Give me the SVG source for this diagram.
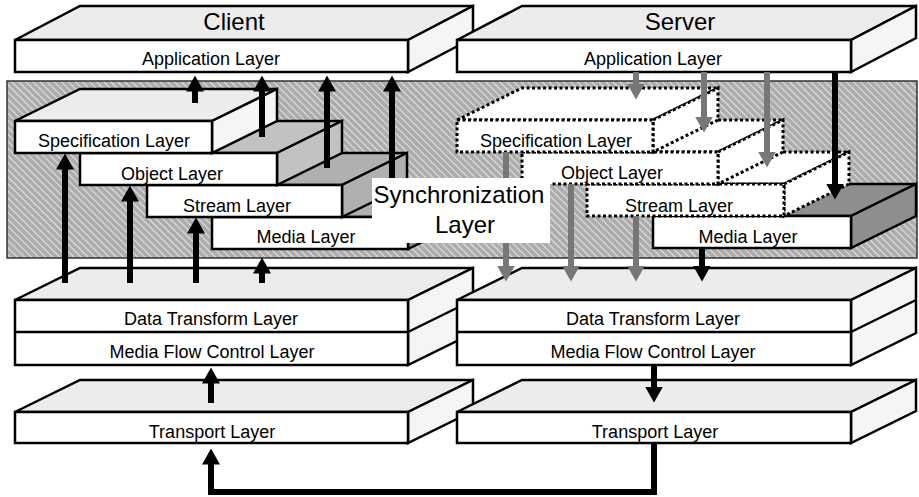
<svg xmlns="http://www.w3.org/2000/svg" width="919" height="497" viewBox="0 0 919 497">
<defs>
<pattern id="hatch" width="5" height="5" patternUnits="userSpaceOnUse" patternTransform="rotate(-45)">
<rect width="5" height="5" fill="#adadad"/>
<line x1="0" y1="0" x2="0" y2="5" stroke="#f2f2f2" stroke-width="1.6"/>
</pattern>
<marker id="ab" markerUnits="userSpaceOnUse" viewBox="0 0 16 18" markerWidth="16" markerHeight="18" refX="0.5" refY="9" orient="auto">
<path d="M0,0 L16,9 L0,18 z" fill="#000"/>
</marker>
<marker id="ag" markerUnits="userSpaceOnUse" viewBox="0 0 16 18" markerWidth="16" markerHeight="18" refX="0.5" refY="9" orient="auto">
<path d="M0,0 L16,9 L0,18 z" fill="#777"/>
</marker>
</defs>
<style>
.f{fill:#fff;stroke:#000;stroke-width:2.5;stroke-linejoin:miter}
.t{fill:#ececec;stroke:#000;stroke-width:2.5}
.s{fill:#f5f5f5;stroke:#000;stroke-width:2.5}
.g1{fill:#c2c2c2;stroke:#000;stroke-width:2.5}
.g2{fill:#b0b0b0;stroke:#000;stroke-width:2.5}
.g3{fill:#8e8e8e;stroke:#000;stroke-width:2.5}
.d{fill:#fff;stroke:#000;stroke-width:3;stroke-dasharray:3 2.5}
.txt{font-family:"Liberation Sans",Arial,sans-serif;font-size:18px;fill:#000;text-anchor:middle}
.big{font-family:"Liberation Sans",Arial,sans-serif;font-size:24px;fill:#000;text-anchor:middle}
.cb{stroke:#000;stroke-width:6;fill:none;marker-end:url(#ab)}
.cg{stroke:#777;stroke-width:6;fill:none;marker-end:url(#ag)}
</style>

<g id="sync-region">
<rect x="7" y="81" width="910" height="177" fill="url(#hatch)" stroke="#333" stroke-width="1.5"/>
</g>

<g id="client-application">
<polygon class="t" points="15,40 80,6 473,6 408,40"/>
<polygon class="s" points="408,40 473,6 473,38 408,72"/>
<rect class="f" x="15" y="40" width="393" height="32"/>
<text class="big" x="234" y="30">Client</text>
<text class="txt" x="211" y="65">Application Layer</text>
</g>

<g id="server-application">
<polygon class="t" points="457,40 522,6 916,6 851,40"/>
<polygon class="s" points="851,40 916,6 916,38 851,72"/>
<rect class="f" x="457" y="40" width="394" height="32"/>
<text class="big" x="680" y="30">Server</text>
<text class="txt" x="653" y="65">Application Layer</text>
</g>

<g id="client-media">
<polygon class="g2" points="212,217 277,185 473,185 408,217"/>
<polygon class="g3" points="408,217 473,185 473,217 408,249"/>
<rect class="f" x="212" y="217" width="196" height="32"/>
<text class="txt" x="306" y="243">Media Layer</text>
</g>
<g id="client-stream">
<polygon class="g2" points="147,185 212,153 407,153 342,185"/>
<polygon class="g2" points="342,185 407,153 407,185 342,217"/>
<rect class="f" x="147" y="185" width="195" height="32"/>
<text class="txt" x="237" y="212">Stream Layer</text>
</g>
<g id="client-object">
<polygon class="g1" points="80,153 145,121 342,121 277,153"/>
<polygon class="g1" points="277,153 342,121 342,153 277,185"/>
<rect class="f" x="80" y="153" width="197" height="32"/>
<text class="txt" x="172" y="180">Object Layer</text>
</g>
<g id="client-specification">
<polygon class="t" points="15,121 80,89 277,89 212,121"/>
<polygon class="s" points="212,121 277,89 277,121 212,153"/>
<rect class="f" x="15" y="121" width="197" height="32"/>
<text class="txt" x="114" y="147">Specification Layer</text>
</g>

<g id="server-media">
<polygon class="g3" points="653,216 718,184 916,184 851,216"/>
<polygon class="g3" points="851,216 916,184 916,216 851,248"/>
<rect class="f" x="653" y="216" width="198" height="32"/>
<text class="txt" x="748" y="243">Media Layer</text>
</g>
<g id="server-stream">
<polygon class="d" points="587,184 652,152 849,152 784,184"/>
<polygon class="d" points="784,184 849,152 849,184 784,216"/>
<rect class="d" x="587" y="184" width="197" height="32"/>
<text class="txt" x="679" y="212">Stream Layer</text>
</g>
<g id="server-object">
<polygon class="d" points="522,152 587,120 783,120 718,152"/>
<polygon class="d" points="718,152 783,120 783,152 718,184"/>
<rect class="d" x="522" y="152" width="196" height="32"/>
<text class="txt" x="612" y="179">Object Layer</text>
</g>
<g id="server-specification">
<polygon class="d" points="457,120 522,88 718,88 653,120"/>
<polygon class="d" points="653,120 718,88 718,120 653,152"/>
<rect class="d" x="457" y="120" width="196" height="32"/>
<text class="txt" x="556" y="147">Specification Layer</text>
</g>

<g id="client-data">
<polygon class="t" points="15,300 80,268 473,268 408,300"/>
<polygon class="s" points="408,300 473,268 473,333 408,365"/>
<line x1="408" y1="332" x2="473" y2="300" stroke="#000" stroke-width="2.5"/>
<rect class="f" x="15" y="300" width="393" height="65"/>
<line x1="15" y1="332" x2="408" y2="332" stroke="#000" stroke-width="2.5"/>
<text class="txt" x="211" y="325">Data Transform Layer</text>
<text class="txt" x="212" y="358">Media Flow Control Layer</text>
</g>

<g id="server-data">
<polygon class="t" points="457,300 522,268 916,268 851,300"/>
<polygon class="s" points="851,300 916,268 916,333 851,365"/>
<line x1="851" y1="332" x2="916" y2="300" stroke="#000" stroke-width="2.5"/>
<rect class="f" x="457" y="300" width="394" height="65"/>
<line x1="457" y1="332" x2="851" y2="332" stroke="#000" stroke-width="2.5"/>
<text class="txt" x="653" y="325">Data Transform Layer</text>
<text class="txt" x="653" y="358">Media Flow Control Layer</text>
</g>

<g id="client-transport">
<polygon class="t" points="15,412 80,380 473,380 408,412"/>
<polygon class="s" points="408,412 473,380 473,411 408,443"/>
<rect class="f" x="15" y="412" width="393" height="31"/>
<text class="txt" x="212" y="438">Transport Layer</text>
</g>

<g id="server-transport">
<polygon class="t" points="457,412 522,380 916,380 851,412"/>
<polygon class="s" points="851,412 916,380 916,411 851,443"/>
<rect class="f" x="457" y="412" width="394" height="31"/>
<text class="txt" x="655" y="438">Transport Layer</text>
</g>

<g id="connectors">
<line class="cb" x1="195" y1="103" x2="195" y2="91"/>
<line class="cb" x1="262" y1="137" x2="262" y2="91"/>
<line class="cb" x1="327" y1="168" x2="327" y2="91"/>
<line class="cb" x1="392" y1="190" x2="392" y2="91"/>
<line class="cb" x1="65" y1="283" x2="65" y2="169"/>
<line class="cb" x1="130" y1="283" x2="130" y2="201"/>
<line class="cb" x1="196" y1="283" x2="196" y2="233"/>
<line class="cb" x1="262" y1="283" x2="262" y2="273"/>
<line class="cg" x1="636" y1="72" x2="636" y2="84"/>
<line class="cg" x1="704" y1="72" x2="704" y2="117"/>
<line class="cg" x1="767" y1="72" x2="767" y2="152"/>
<line class="cb" x1="835" y1="72" x2="835" y2="184"/>
<line class="cg" x1="506" y1="152" x2="506" y2="266"/>
<line class="cg" x1="571" y1="184" x2="571" y2="266"/>
<line class="cg" x1="636" y1="216" x2="636" y2="266"/>
<line class="cb" x1="702" y1="248" x2="702" y2="266"/>
<line class="cb" x1="211" y1="403" x2="211" y2="383"/>
<line class="cb" x1="654" y1="365" x2="654" y2="387"/>
<path class="cb" stroke-width="5" d="M654,443 V492 H211 V464"/>
</g>

<g id="synchronization-label">
<rect x="372" y="178" width="178" height="65" fill="#fff"/>
<text class="big" x="459" y="203">Synchronization</text>
<text class="big" x="465" y="233">Layer</text>
</g>
</svg>
